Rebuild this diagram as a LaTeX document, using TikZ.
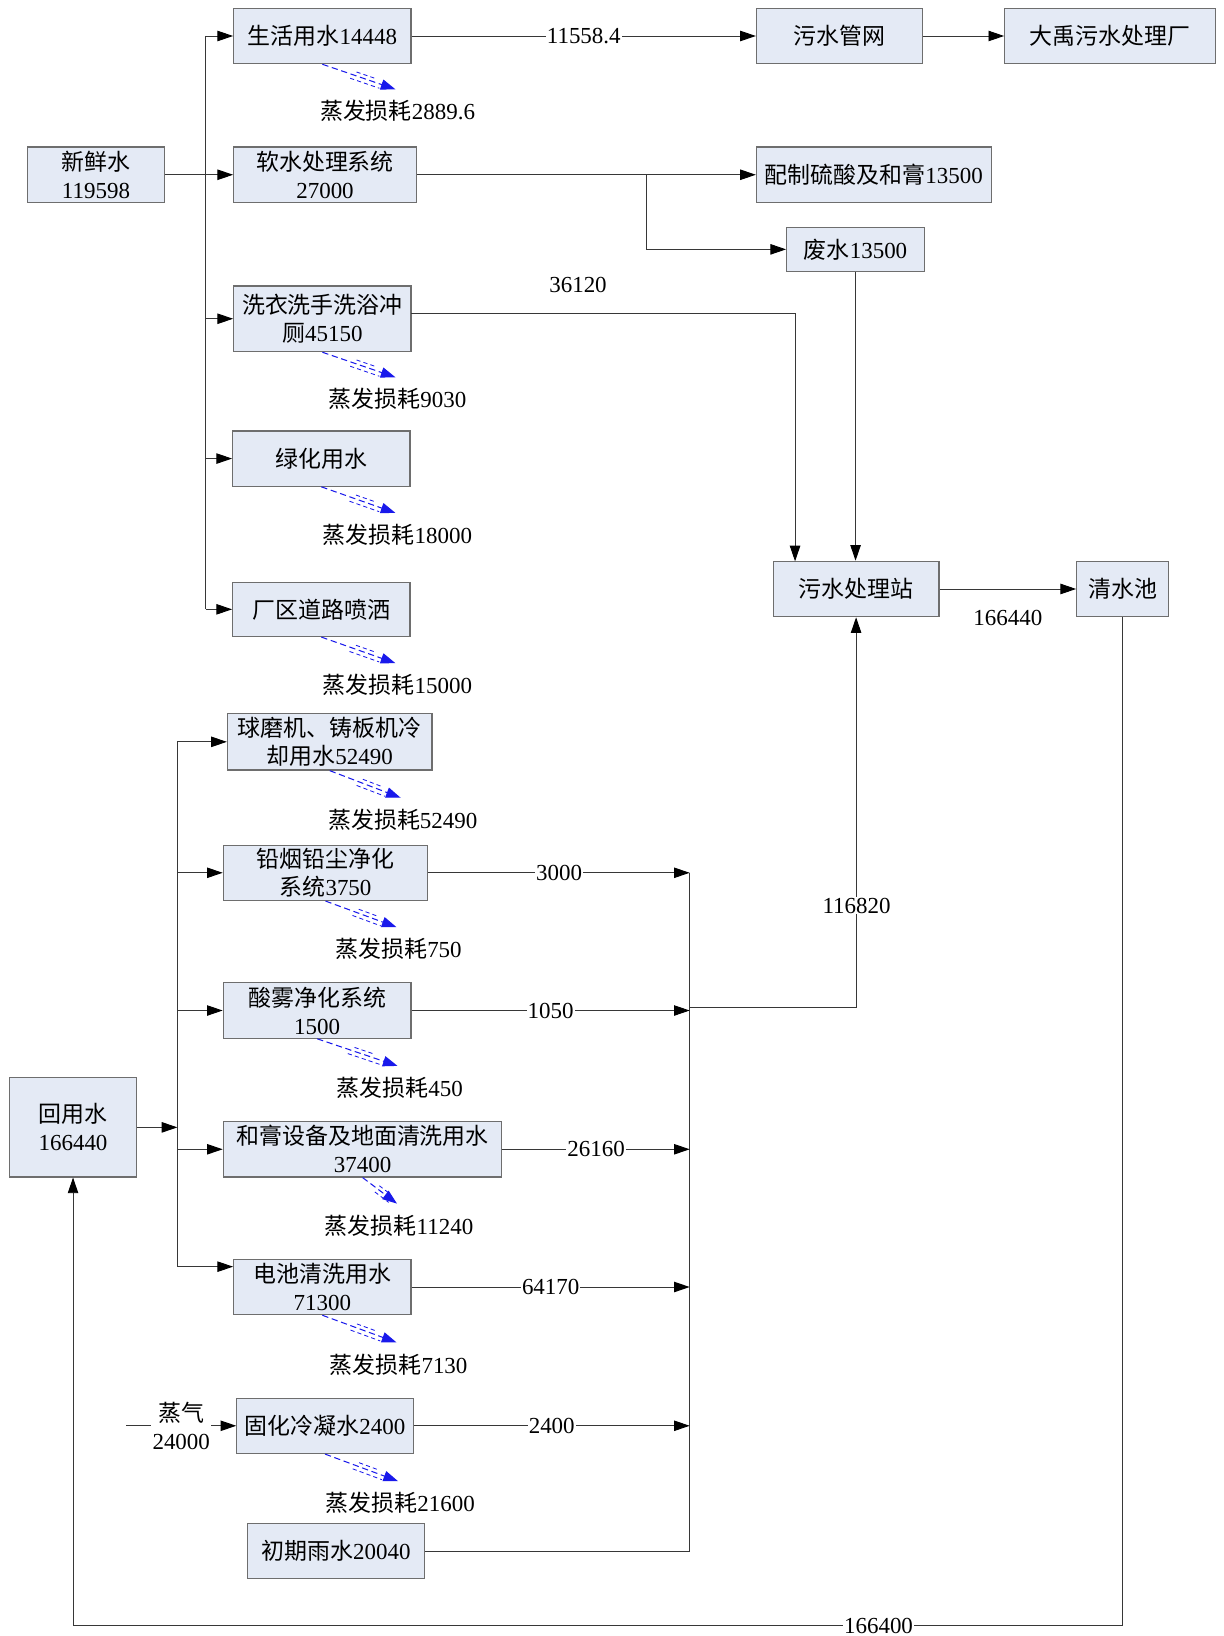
\documentclass[tikz,border=0pt]{standalone}
\usepackage{fontspec}
\setmainfont{Liberation Serif}
\newfontfamily\cjk{Noto Sans CJK SC}
\usetikzlibrary{arrows.meta,calc}
\newcommand\zh[1]{{\cjk #1}}
\definecolor{boxfill}{RGB}{228,234,245}
\definecolor{boxline}{RGB}{110,110,110}
\definecolor{flow}{RGB}{55,55,55}
\definecolor{evapblue}{RGB}{25,25,235}

% evaporation loss: dashed blue arrow below a box, with its label
\newcommand\evapflow[4]{%
  \path (#1.south) ++(#2,#3) coordinate (#1-e);
  \draw[evap] (#1.south) -- (#1-e);
  \draw[evapb] ($(#1.south)!0.4!(#1-e)+(-1.4,3.8)$) -- ($(#1.south)!0.8!(#1-e)+(-1.4,3.8)$);
  \draw[evapb] ($(#1.south)!0.45!(#1-e)+(1.2,-3.4)$) -- ($(#1.south)!0.7!(#1-e)+(1.2,-3.4)$);
  \node (#1-l) at ($(#1-e)+(2,21)$) {\zh{蒸发损耗}#4};
}

\begin{document}
\begin{tikzpicture}[x=1pt,y=-1pt,
  every node/.style={font=\fontsize{22}{27}\selectfont},
  box/.style={draw=boxline,fill=boxfill,line width=1.2pt,inner sep=0pt,align=center},
  flowline/.style={draw=flow,line width=0.9pt},
  arr/.style={flowline,-{Triangle[length=15pt,width=10pt,color=black]}},
  elabel/.style={fill=white,inner sep=1pt,align=center},
  evap/.style={draw=evapblue,line width=1pt,dash pattern=on 6pt off 3.5pt,-{Triangle[length=14pt,width=10pt]}},
  evapb/.style={draw=evapblue,line width=0.8pt,dash pattern=on 4pt off 3pt},
]
\useasboundingbox (0,0) rectangle (1173,1568);

% ---- fresh water side ----
\node[box,minimum width=170pt,minimum height=53pt] (sh)   at (309,34.5)   {\zh{生活用水}14448};
\node[box,minimum width=159pt,minimum height=53pt] (wsgw) at (804.5,34.5) {\zh{污水管网}};
\node[box,minimum width=202pt,minimum height=53pt] (dy)   at (1064,34.5)  {\zh{大禹污水处理厂}};
\node[box,minimum width=132pt,minimum height=53pt] (xx)   at (92,167.5)   {\zh{新鲜水}\\119598};
\node[box,minimum width=175pt,minimum height=53pt] (rs)   at (311.5,167.5){\zh{软水处理系统}\\27000};
\node[box,minimum width=225pt,minimum height=53pt] (pz)   at (837.5,167.5){\zh{配制硫酸及和膏}13500};
\node[box,minimum width=132pt,minimum height=42pt] (fs)   at (820,239)    {\zh{废水}13500};
\node[box,minimum width=170pt,minimum height=63pt] (xy)   at (309,305.5)  {\zh{洗衣洗手洗浴冲}\\\zh{厕}45150};
\node[box,minimum width=170pt,minimum height=53pt] (lh)   at (308,439.5)  {\zh{绿化用水}};
\node[box,minimum width=170pt,minimum height=52pt] (cq)   at (308,584)    {\zh{厂区道路喷洒}};
\node[box,minimum width=159pt,minimum height=53pt] (wscl) at (820.5,564.5){\zh{污水处理站}};
\node[box,minimum width=88pt,minimum height=53pt]  (qsc)  at (1076,564.5) {\zh{清水池}};

% ---- reuse side ----
\node[box,minimum width=196pt,minimum height=54pt] (qmj) at (316,711)     {\zh{球磨机、铸板机冷}\\\zh{却用水}52490};
\node[box,minimum width=196pt,minimum height=53pt] (qy)  at (312,836.5)   {\zh{铅烟铅尘净化}\\\zh{系统}3750};
\node[box,minimum width=180pt,minimum height=53pt] (sw)  at (304,968.5)   {\zh{酸雾净化系统}\\1500};
\node[box,minimum width=122pt,minimum height=95pt] (hy)  at (70,1080.5)   {\zh{回用水}\\166440};
\node[box,minimum width=267pt,minimum height=53pt] (hg)  at (347.5,1101.5){\zh{和膏设备及地面清洗用水}\\37400};
\node[box,minimum width=170pt,minimum height=53pt] (dc)  at (309,1233.5)  {\zh{电池清洗用水}\\71300};
\node[box,minimum width=169pt,minimum height=53pt] (gh)  at (311.5,1366.5){\zh{固化冷凝水}2400};
\node[box,minimum width=170pt,minimum height=53pt] (cy)  at (322,1486.5)  {\zh{初期雨水}20040};

% ---- fresh water distribution ----
\coordinate (ftop) at (197,34.5);
\coordinate (fbot) at (197,584);
\draw[flowline] (ftop) -- (fbot);
\draw[arr] (ftop) -- (sh.west);
\draw[arr] (xx.east) -- (rs.west);
\draw[arr] (ftop |- xy.west) -- (xy.west);
\draw[arr] (ftop |- lh.west) -- (lh.west);
\draw[arr] (fbot) -- (cq.west);

\draw[arr] (sh.east) -- (wsgw.west) node[elabel,midway] {11558.4};
\draw[arr] (wsgw.east) -- (dy.west);
\draw[arr] (rs.east) -- (pz.west);
\coordinate (br) at (620,167.5);
\draw[arr] (br) |- (fs.west);

\coordinate (out1) at (394,300);
\coordinate (in1) at (762,538);
\draw[arr] (out1) -| (in1);
\node (l36120) at (554,273) {36120};
\draw[arr] (fs.south) -- (fs.south |- wscl.north);

\draw[arr] (wscl.east) -- (qsc.west);
\node (l166440) at (966,592) {166440};
\coordinate (bot) at (1076,1558);
\draw[arr] (qsc.south) -- (bot) -| (hy.south);
\node[elabel] (l166400) at (842,1558) {166400};

% ---- reuse distribution ----
\coordinate (rtop) at (170,711);
\coordinate (rbot) at (170,1214);
\draw[flowline] (rtop) -- (rbot);
\draw[arr] (hy.east) -- (hy.east -| rtop);
\draw[arr] (rtop) -- (qmj.west);
\draw[arr] (rtop |- qy.west) -- (qy.west);
\draw[arr] (rtop |- sw.west) -- (sw.west);
\draw[arr] (rtop |- hg.west) -- (hg.west);
\draw[arr] (rbot) -- (rbot -| dc.west);

\coordinate (steam) at (121,1366.5);
\draw[arr] (steam) -- (gh.west) node[elabel,midway] {\zh{蒸气}\\24000};

% ---- collection to the treatment station ----
\coordinate (ctop) at (661,836.5);
\coordinate (cbot) at (661,1486.5);
\coordinate (cmid) at (661,966);
\draw[flowline] (ctop) -- (cbot);
\draw[arr] (qy.east) -- (qy.east -| ctop) node[elabel,midway] {3000};
\draw[arr] (sw.east) -- (sw.east -| ctop) node[elabel,midway] {1050};
\draw[arr] (hg.east) -- (hg.east -| ctop) node[elabel,midway] {26160};
\draw[arr] (dc.east) -- (dc.east -| ctop) node[elabel,midway] {64170};
\draw[arr] (gh.east) -- (gh.east -| ctop) node[elabel,midway] {2400};
\draw[flowline] (cy.east) -- (cbot);
\draw[arr] (cmid) -| (wscl.south);
\node[elabel] (l116820) at (821,868) {116820};

% ---- evaporation losses ----
\evapflow{sh}{70}{24}{2889.6}
\evapflow{xy}{70}{24}{9030}
\evapflow{lh}{71}{25}{18000}
\evapflow{cq}{71}{25}{15000}
\evapflow{qmj}{68}{26}{52490}
\evapflow{qy}{68}{25}{750}
\evapflow{sw}{77}{26}{450}
\evapflow{hg}{33}{25}{11240}
\evapflow{dc}{71}{26}{7130}
\evapflow{gh}{70}{26}{21600}
\end{tikzpicture}
\end{document}
